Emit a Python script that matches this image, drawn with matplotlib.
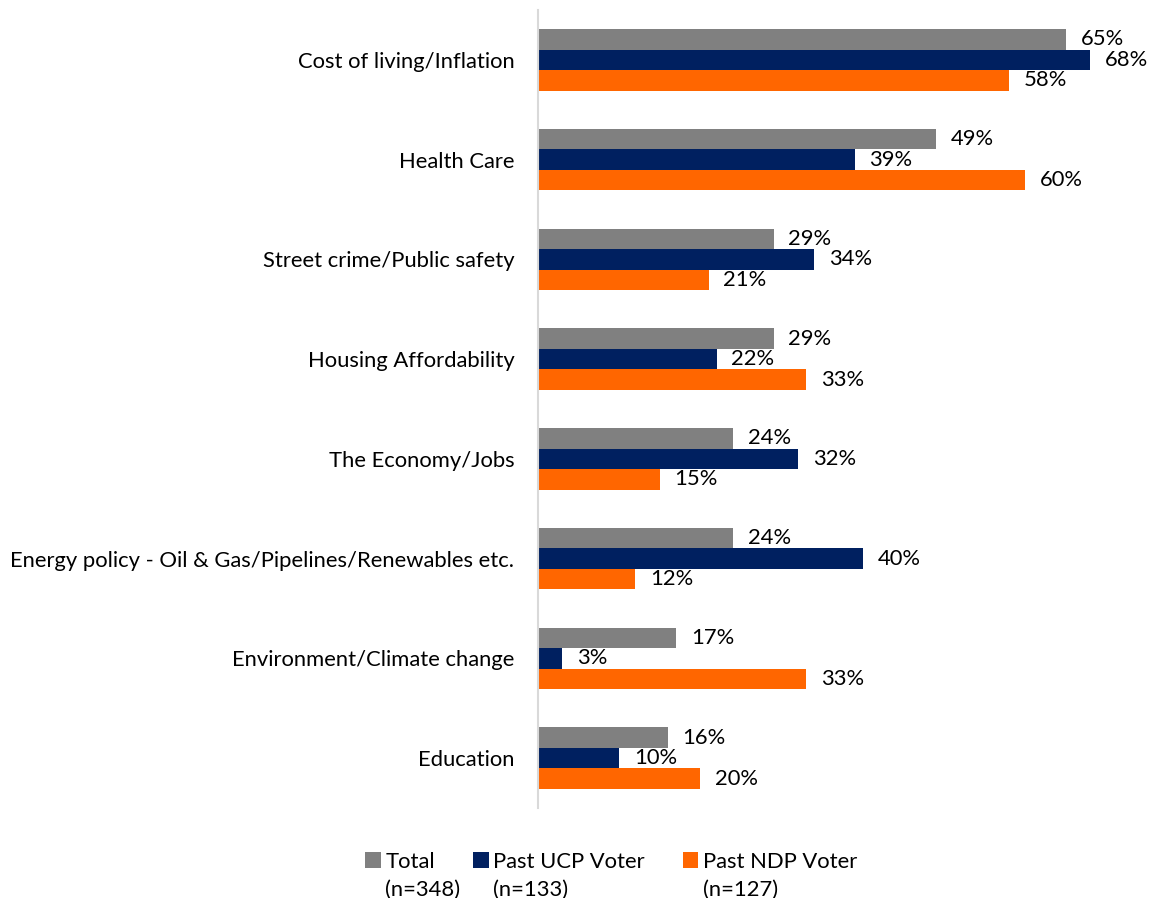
import matplotlib
matplotlib.use("Agg")
import matplotlib.pyplot as plt
import numpy as np

plt.rcParams['font.family'] = ['Lato', 'DejaVu Sans']

categories = ['Cost of living/Inflation', 'Health Care', 'Street crime/Public safety',
              'Housing Affordability', 'The Economy/Jobs',
              'Energy policy - Oil & Gas/Pipelines/Renewables etc.',
              'Environment/Climate change', 'Education']
total = [65, 49, 29, 29, 24, 24, 17, 16]
ucp = [68, 39, 34, 22, 32, 40, 3, 10]
ndp = [58, 60, 21, 33, 15, 12, 33, 20]

series_names = ['Total', 'Past UCP Voter', 'Past NDP Voter']
series_n = ['(n=348)', '(n=133)', '(n=127)']
colors = ['#808080', '#002060', '#FF6600']

fs = 15.8

fig = plt.figure(figsize=(11.49, 8.98), dpi=100)
ax = fig.add_axes([0.4682, 0.1002, 0.5318, 0.8887])

y = np.arange(len(categories))
h = 0.205
bars = []
for i, (vals, c) in enumerate(zip([total, ucp, ndp], colors)):
    b = ax.barh(y + (i - 1) * h, vals, height=h, color=c, label=series_names[i])
    bars.append(b)
    for rect, v in zip(b, vals):
        ax.text(rect.get_width() + 1.8, rect.get_y() + rect.get_height() / 2,
                f'{v}%', va='center', ha='left', fontsize=fs, color='black')

ax.set_ylim(len(categories) - 0.5, -0.5)
ax.set_xlim(0, 75.2)
ax.set_yticks(y)
ax.set_yticklabels(categories, fontsize=fs)
ax.tick_params(axis='y', length=0, pad=17)
ax.set_xticks([])
for s in ['top', 'right', 'bottom']:
    ax.spines[s].set_visible(False)
ax.spines['left'].set_color('#d9d9d9')
ax.spines['left'].set_linewidth(1.5)

leg = fig.legend(handles=bars, labels=series_names, loc='upper left',
                 bbox_to_anchor=(0.3085, 0.064), ncol=3, frameon=False,
                 fontsize=fs, handlelength=0.7, handleheight=0.7,
                 handletextpad=0.2, columnspacing=1.75, borderpad=0)

# second line of each legend entry (sample sizes)
fig.canvas.draw()
inv = fig.transFigure.inverted()
for txt, n in zip(leg.get_texts(), series_n):
    bb = txt.get_window_extent()
    x0, y0 = inv.transform((bb.x0, bb.y0))
    fig.text(x0, y0 - 0.009, n, ha='left', va='top', fontsize=fs)

fig.savefig('out.png', dpi=100)
